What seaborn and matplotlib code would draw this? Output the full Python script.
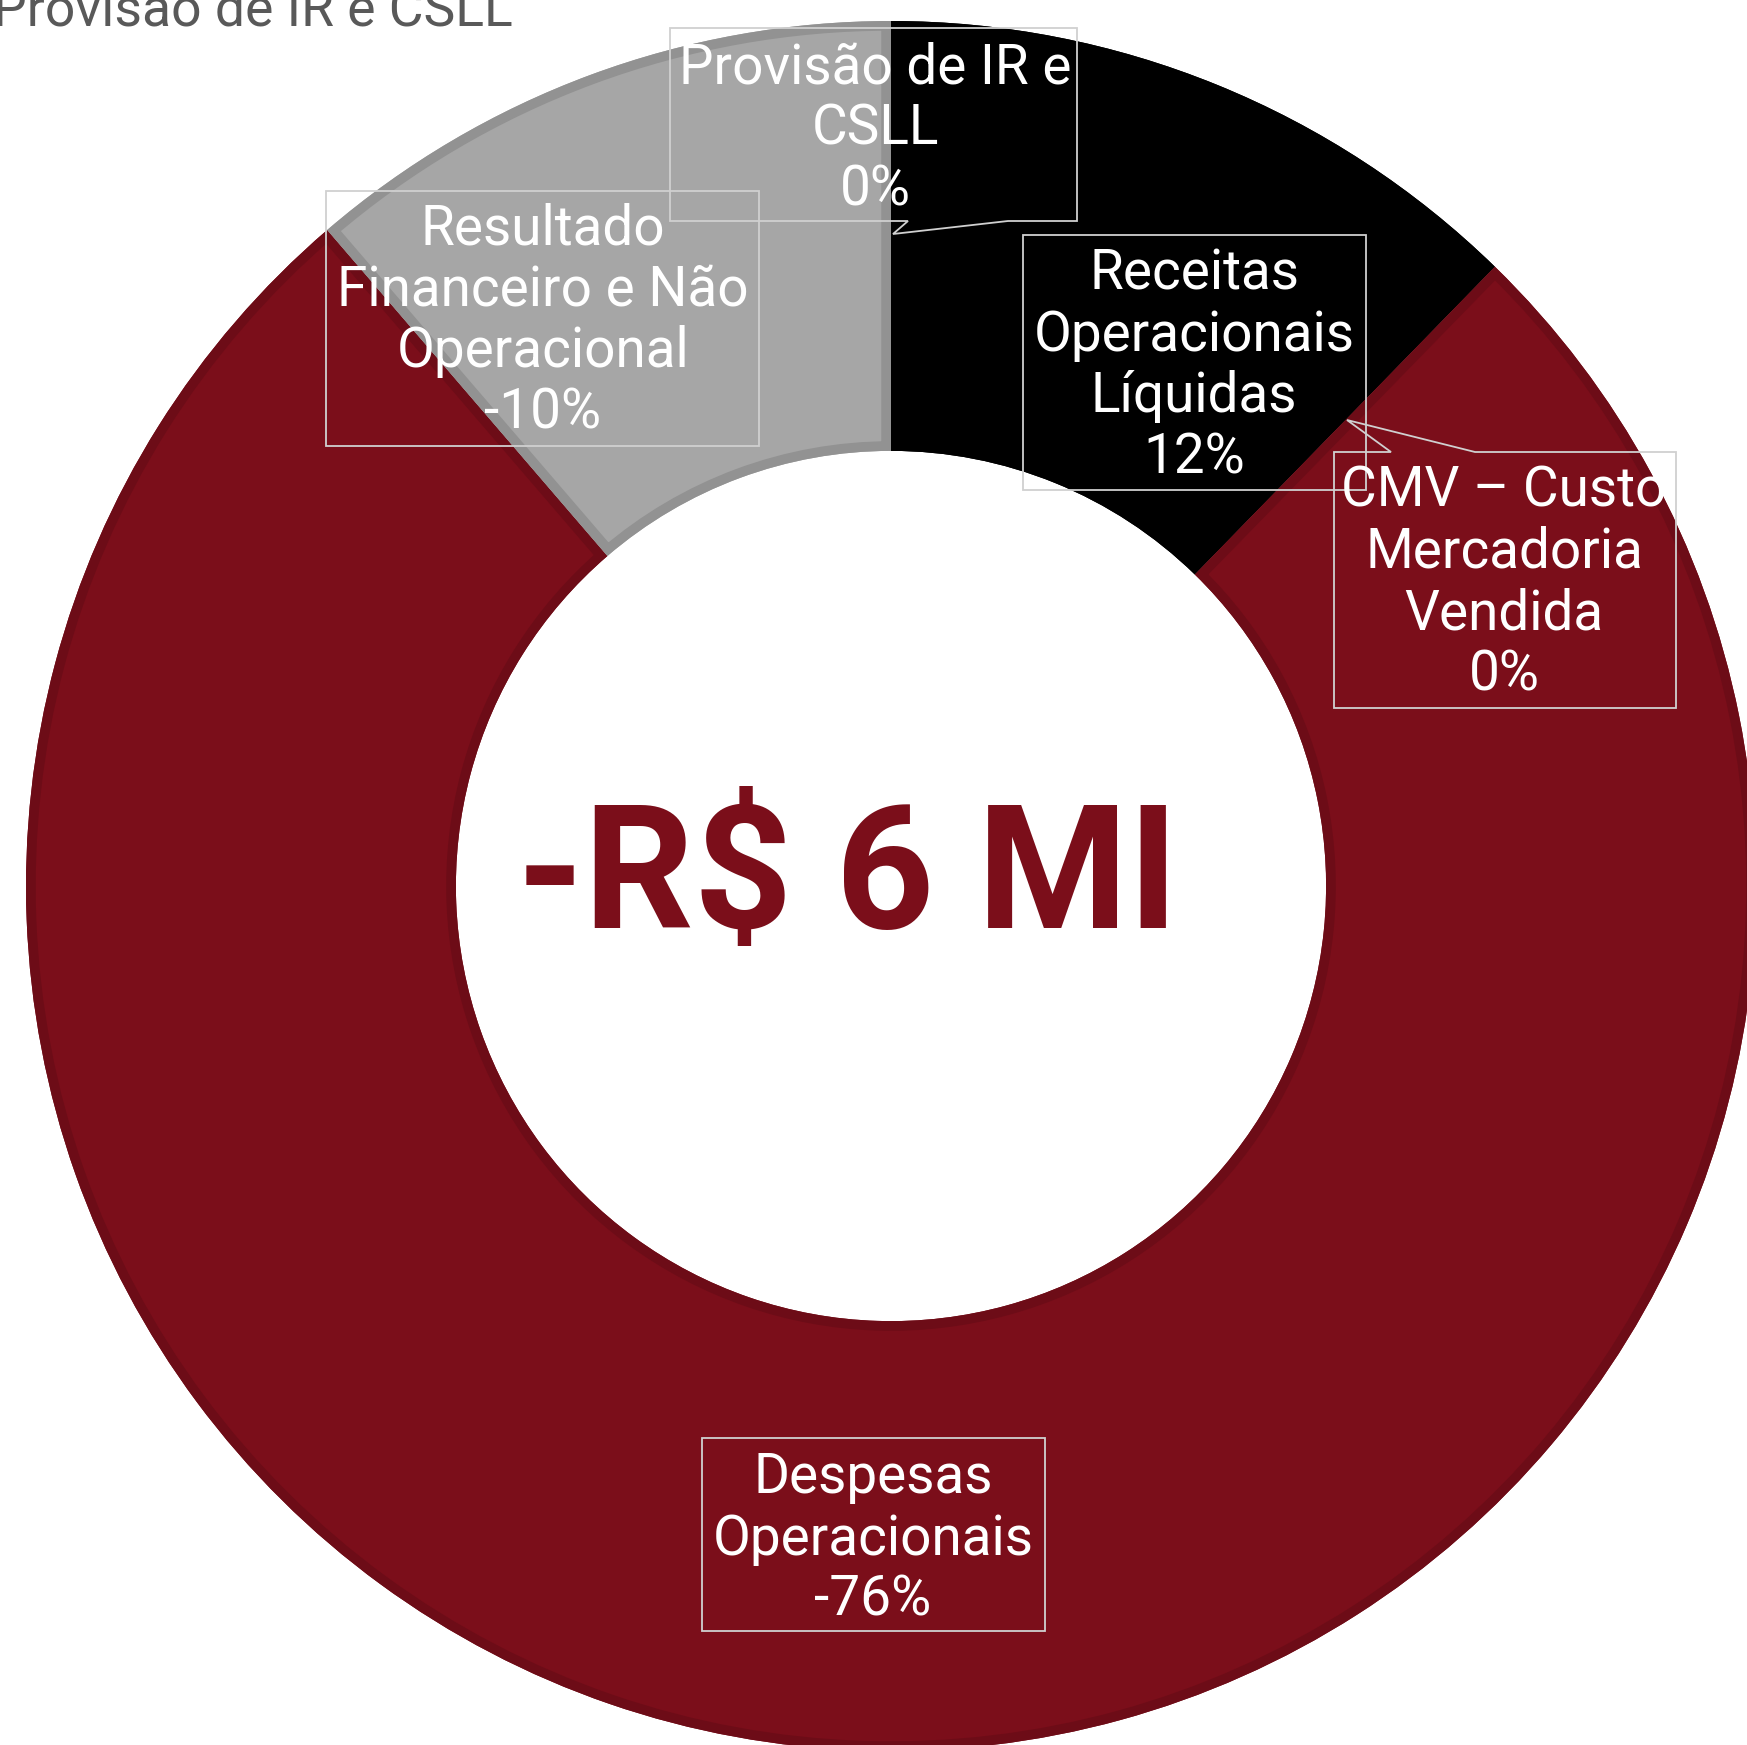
import matplotlib
matplotlib.use("Agg")
import matplotlib.pyplot as plt
from matplotlib.patches import Polygon, Wedge
import seaborn as sns

# === DATA ===
categorias = ["Receitas Operacionais Líquidas", "CMV – Custo Mercadoria Vendida",
              "Despesas Operacionais", "Resultado Financeiro e Não Operacional",
              "Provisão de IR e CSLL"]
fatias = [12.3, 0.0, 76.4, 11.3, 0.0]          # share of the ring (%)
rotulos_pct = ["12%", "0%", "-76%", "-10%", "0%"]
rotulos_txt = ["Receitas\nOperacionais\nLíquidas",
               "CMV – Custo\nMercadoria\nVendida",
               "Despesas\nOperacionais",
               "Resultado\nFinanceiro e Não\nOperacional",
               "Provisão de IR e\nCSLL"]
resultado = "-R$ 6 MI"
titulo_cortado = "Provisão de IR e CSLL"

cores = ["#000000", "#7B0E1A", "#7B0E1A", "#A6A6A6", "#A6A6A6"]
bordas = ["#000000", "#6D0C17", "#6D0C17", "#929292", "#929292"]

# === LAYOUT (pixels of the 1747x1745 canvas) ===
W, H = 1747, 1745
CX, CY, R = 891, 886, 865

sns.set_theme(style="white")
plt.rcParams['font.family'] = ['Roboto', 'DejaVu Sans']

fig = plt.figure(figsize=(W / 100, H / 100), dpi=100)
fig.patch.set_facecolor("white")
ax = fig.add_axes([0, 0, 1, 1])

wedges, _ = ax.pie(fatias, colors=cores, startangle=90, counterclock=False,
                   radius=1, wedgeprops=dict(width=0.497, linewidth=0))

# inner (inset) border of each slice, clipped to the slice itself
for w, b in zip(wedges, bordas):
    borda = Wedge(w.center, w.r, w.theta1, w.theta2, width=w.width, fill=False,
                  edgecolor=b, linewidth=14, transform=ax.transData)
    ax.add_patch(borda)
    borda.set_clip_path(w)

ax.set_xlim(-CX / R, (W - CX) / R)
ax.set_ylim(-(H - CY) / R, CY / R)
ax.set_aspect("equal")
ax.axis("off")


def fp(x, y):
    return x / W, 1 - y / H


# label boxes: outline polygon (with callout notch) and text centre
caixas = {
    0: dict(pts=[(1023, 235), (1366, 235), (1366, 490), (1023, 490)], txt=(1194, 366)),
    1: dict(pts=[(1334, 452), (1391, 452), (1347, 420), (1475, 452), (1676, 452),
                 (1676, 708), (1334, 708)], txt=(1504, 583)),
    2: dict(pts=[(702, 1438), (1045, 1438), (1045, 1631), (702, 1631)], txt=(873, 1539)),
    3: dict(pts=[(326, 191), (759, 191), (759, 446), (326, 446)], txt=(543, 321)),
    4: dict(pts=[(670, 28), (1077, 28), (1077, 221), (1008, 221), (893, 234),
                 (908, 221), (670, 221)], txt=(875, 129)),
}

for i, cx in caixas.items():
    poly = Polygon([fp(*p) for p in cx["pts"]], closed=True, fill=False,
                   edgecolor="#D0D0D0", linewidth=1.3, transform=fig.transFigure)
    fig.add_artist(poly)
    tx, ty = fp(*cx["txt"])
    fig.text(tx, ty, rotulos_txt[i] + "\n" + rotulos_pct[i], ha="center", va="center",
             color="white", fontsize=39.5, linespacing=1.2)

# cropped title at top-left
tx, ty = fp(-7, 26)
fig.text(tx, ty, titulo_cortado, ha="left", va="baseline", color="#595959", fontsize=38.5)

# central value
tx, ty = fp(848, 928)
fig.text(tx, ty, resultado, ha="center", va="baseline", color="#7B0E1A",
         fontsize=124, fontweight="bold")

fig.savefig("out.png", dpi=100, facecolor="white")
plt.close()
